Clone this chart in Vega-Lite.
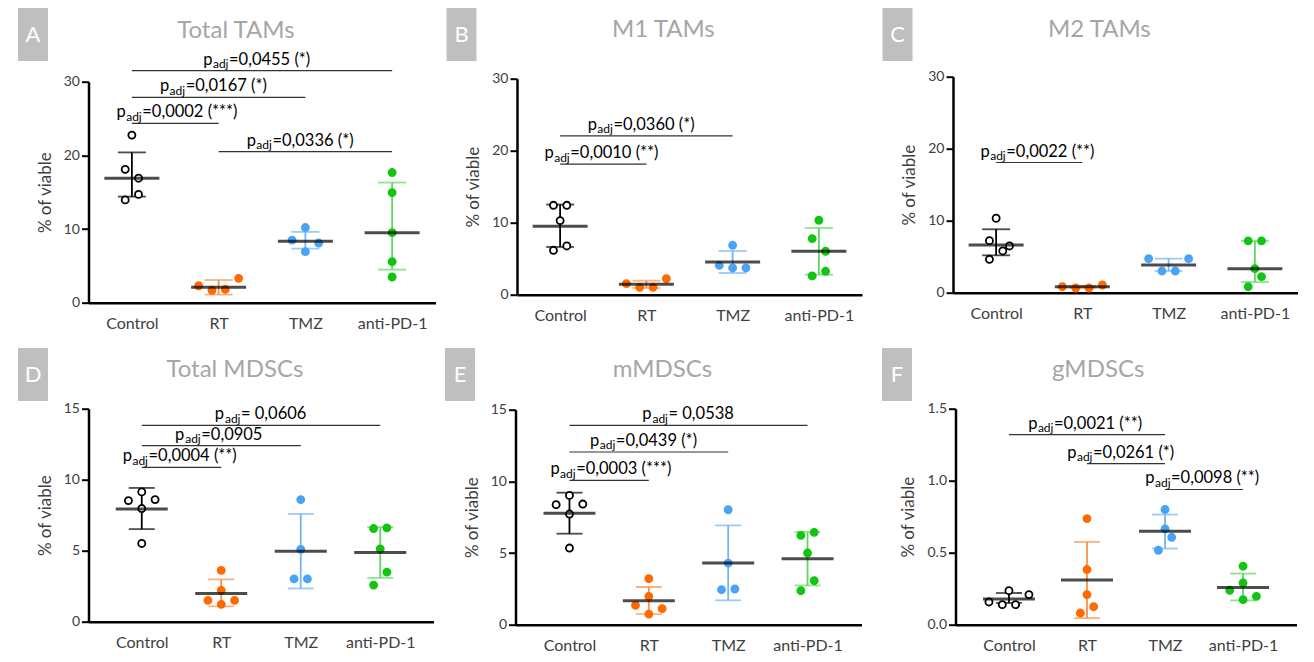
{
"$schema":"https://vega.github.io/schema/vega-lite/v6.json",
"padding":{"left":18,"top":8,"right":0,"bottom":0},
"background":"white",
"config":{
 "font":"Lato",
 "view":{"stroke":null},
 "axis":{"labelColor":"#404040","titleColor":"#404040","domainColor":"#000000","tickColor":"#000000","grid":false,"labelFont":"Lato","titleFont":"Lato","titleFontWeight":"normal"},
 "title":{"font":"Lato","fontSize":24,"fontWeight":"normal","color":"#a6a6a6","anchor":"middle","frame":"bounds"},
 "style":{
  "sigp":{"align":"right","baseline":"alphabetic","fontSize":16.5,"dy":-6,"fill":"#404040"},
  "sigadj":{"align":"right","baseline":"alphabetic","fontSize":12,"dy":-2.5,"fill":"#404040"},
  "sigrest":{"align":"left","baseline":"alphabetic","fontSize":16.5,"dy":-6,"fill":"#404040"}
 }
},
"datasets":{
 "letters":[{"panel":"A"},{"panel":"B"},{"panel":"C"},{"panel":"D"},{"panel":"E"},{"panel":"F"}],
 "points":[
  {"panel":"A","group":"Control","value":22.75,"slot":0},{"panel":"A","group":"Control","value":18.1,"slot":-1},{"panel":"A","group":"Control","value":16.9,"slot":1},{"panel":"A","group":"Control","value":13.95,"slot":-1},{"panel":"A","group":"Control","value":14.7,"slot":1},
  {"panel":"A","group":"RT","value":2.3,"slot":-3},{"panel":"A","group":"RT","value":1.69,"slot":-1},{"panel":"A","group":"RT","value":1.8,"slot":1},{"panel":"A","group":"RT","value":3.31,"slot":3},
  {"panel":"A","group":"TMZ","value":10.2,"slot":0},{"panel":"A","group":"TMZ","value":8.5,"slot":-2},{"panel":"A","group":"TMZ","value":8.1,"slot":2},{"panel":"A","group":"TMZ","value":6.93,"slot":0},
  {"panel":"A","group":"anti-PD-1","value":17.67,"slot":0},{"panel":"A","group":"anti-PD-1","value":14.95,"slot":0},{"panel":"A","group":"anti-PD-1","value":9.51,"slot":0},{"panel":"A","group":"anti-PD-1","value":5.57,"slot":0},{"panel":"A","group":"anti-PD-1","value":3.49,"slot":0},
  {"panel":"B","group":"Control","value":12.42,"slot":-1},{"panel":"B","group":"Control","value":12.42,"slot":1},{"panel":"B","group":"Control","value":10.29,"slot":0},{"panel":"B","group":"Control","value":6.77,"slot":1},{"panel":"B","group":"Control","value":6.17,"slot":-1},
  {"panel":"B","group":"RT","value":1.53,"slot":-3},{"panel":"B","group":"RT","value":1.02,"slot":-1},{"panel":"B","group":"RT","value":1.02,"slot":1},{"panel":"B","group":"RT","value":2.22,"slot":3},
  {"panel":"B","group":"TMZ","value":6.86,"slot":0},{"panel":"B","group":"TMZ","value":4.08,"slot":-2},{"panel":"B","group":"TMZ","value":3.71,"slot":0},{"panel":"B","group":"TMZ","value":3.71,"slot":2},
  {"panel":"B","group":"anti-PD-1","value":10.34,"slot":0},{"panel":"B","group":"anti-PD-1","value":7.79,"slot":-1},{"panel":"B","group":"anti-PD-1","value":6.03,"slot":1},{"panel":"B","group":"anti-PD-1","value":3.25,"slot":1},{"panel":"B","group":"anti-PD-1","value":2.6,"slot":-1},
  {"panel":"C","group":"Control","value":10.34,"slot":0},{"panel":"C","group":"Control","value":7.23,"slot":-1},{"panel":"C","group":"Control","value":6.49,"slot":2},{"panel":"C","group":"Control","value":5.8,"slot":1},{"panel":"C","group":"Control","value":4.64,"slot":-1},
  {"panel":"C","group":"RT","value":0.83,"slot":-3},{"panel":"C","group":"RT","value":0.65,"slot":-1},{"panel":"C","group":"RT","value":0.65,"slot":1},{"panel":"C","group":"RT","value":1.07,"slot":3},
  {"panel":"C","group":"TMZ","value":4.73,"slot":-3},{"panel":"C","group":"TMZ","value":4.73,"slot":3},{"panel":"C","group":"TMZ","value":3.01,"slot":-1},{"panel":"C","group":"TMZ","value":3.01,"slot":1},
  {"panel":"C","group":"anti-PD-1","value":7.19,"slot":-1},{"panel":"C","group":"anti-PD-1","value":7.19,"slot":1},{"panel":"C","group":"anti-PD-1","value":3.34,"slot":0},{"panel":"C","group":"anti-PD-1","value":2.23,"slot":1},{"panel":"C","group":"anti-PD-1","value":0.83,"slot":-1},
  {"panel":"D","group":"Control","value":9.14,"slot":0},{"panel":"D","group":"Control","value":8.53,"slot":-2},{"panel":"D","group":"Control","value":8.6,"slot":2},{"panel":"D","group":"Control","value":7.97,"slot":0},{"panel":"D","group":"Control","value":5.51,"slot":0},
  {"panel":"D","group":"RT","value":3.61,"slot":0},{"panel":"D","group":"RT","value":2.2,"slot":0},{"panel":"D","group":"RT","value":1.5,"slot":-2},{"panel":"D","group":"RT","value":1.5,"slot":2},{"panel":"D","group":"RT","value":1.22,"slot":0},
  {"panel":"D","group":"TMZ","value":8.6,"slot":0},{"panel":"D","group":"TMZ","value":5.09,"slot":0},{"panel":"D","group":"TMZ","value":3.02,"slot":-1},{"panel":"D","group":"TMZ","value":3.02,"slot":1},
  {"panel":"D","group":"anti-PD-1","value":6.56,"slot":-1},{"panel":"D","group":"anti-PD-1","value":6.61,"slot":1},{"panel":"D","group":"anti-PD-1","value":5.13,"slot":0},{"panel":"D","group":"anti-PD-1","value":3.49,"slot":1},{"panel":"D","group":"anti-PD-1","value":2.58,"slot":-1},
  {"panel":"E","group":"Control","value":9.02,"slot":0},{"panel":"E","group":"Control","value":8.37,"slot":-2},{"panel":"E","group":"Control","value":8.42,"slot":2},{"panel":"E","group":"Control","value":7.72,"slot":0},{"panel":"E","group":"Control","value":5.35,"slot":0},
  {"panel":"E","group":"RT","value":3.21,"slot":0},{"panel":"E","group":"RT","value":1.98,"slot":0},{"panel":"E","group":"RT","value":1.35,"slot":-2},{"panel":"E","group":"RT","value":1.12,"slot":2},{"panel":"E","group":"RT","value":0.74,"slot":0},
  {"panel":"E","group":"TMZ","value":8.02,"slot":0},{"panel":"E","group":"TMZ","value":4.3,"slot":0},{"panel":"E","group":"TMZ","value":2.44,"slot":-1},{"panel":"E","group":"TMZ","value":2.49,"slot":1},
  {"panel":"E","group":"anti-PD-1","value":6.23,"slot":-1},{"panel":"E","group":"anti-PD-1","value":6.44,"slot":1},{"panel":"E","group":"anti-PD-1","value":5.0,"slot":0},{"panel":"E","group":"anti-PD-1","value":3.07,"slot":1},{"panel":"E","group":"anti-PD-1","value":2.37,"slot":-1},
  {"panel":"F","group":"Control","value":0.236,"slot":0},{"panel":"F","group":"Control","value":0.209,"slot":3},{"panel":"F","group":"Control","value":0.158,"slot":-3},{"panel":"F","group":"Control","value":0.139,"slot":-1},{"panel":"F","group":"Control","value":0.139,"slot":1},
  {"panel":"F","group":"RT","value":0.737,"slot":0},{"panel":"F","group":"RT","value":0.383,"slot":0},{"panel":"F","group":"RT","value":0.209,"slot":0},{"panel":"F","group":"RT","value":0.125,"slot":1},{"panel":"F","group":"RT","value":0.081,"slot":-1},
  {"panel":"F","group":"TMZ","value":0.8,"slot":0},{"panel":"F","group":"TMZ","value":0.665,"slot":0},{"panel":"F","group":"TMZ","value":0.607,"slot":1},{"panel":"F","group":"TMZ","value":0.517,"slot":-1},
  {"panel":"F","group":"anti-PD-1","value":0.406,"slot":0},{"panel":"F","group":"anti-PD-1","value":0.29,"slot":0},{"panel":"F","group":"anti-PD-1","value":0.239,"slot":-2},{"panel":"F","group":"anti-PD-1","value":0.174,"slot":0},{"panel":"F","group":"anti-PD-1","value":0.197,"slot":2}
 ],
 "summary":[
  {"panel":"A","group":"Control","mean":16.9,"lo":14.4,"hi":20.4},{"panel":"A","group":"RT","mean":2.09,"lo":1.1,"hi":3.08},{"panel":"A","group":"TMZ","mean":8.34,"lo":7.34,"hi":9.61},{"panel":"A","group":"anti-PD-1","mean":9.51,"lo":4.49,"hi":16.31},
  {"panel":"B","group":"Control","mean":9.5,"lo":6.63,"hi":12.52},{"panel":"B","group":"RT","mean":1.44,"lo":0.93,"hi":1.95},{"panel":"B","group":"TMZ","mean":4.54,"lo":3.01,"hi":6.07},{"panel":"B","group":"anti-PD-1","mean":6.03,"lo":2.78,"hi":9.27},
  {"panel":"C","group":"Control","mean":6.63,"lo":5.19,"hi":8.81},{"panel":"C","group":"RT","mean":0.83,"lo":0.7,"hi":0.96},{"panel":"C","group":"TMZ","mean":3.85,"lo":3.01,"hi":4.73},{"panel":"C","group":"anti-PD-1","mean":3.34,"lo":1.48,"hi":7.19},
  {"panel":"D","group":"Control","mean":7.94,"lo":6.52,"hi":9.42},{"panel":"D","group":"RT","mean":1.99,"lo":1.08,"hi":2.98},{"panel":"D","group":"TMZ","mean":4.97,"lo":2.34,"hi":7.59},{"panel":"D","group":"anti-PD-1","mean":4.87,"lo":3.09,"hi":6.66},
  {"panel":"E","group":"Control","mean":7.77,"lo":6.35,"hi":9.21},{"panel":"E","group":"RT","mean":1.67,"lo":0.74,"hi":2.63},{"panel":"E","group":"TMZ","mean":4.3,"lo":1.7,"hi":6.93},{"panel":"E","group":"anti-PD-1","mean":4.6,"lo":2.74,"hi":6.47},
  {"panel":"F","group":"Control","mean":0.179,"lo":0.151,"hi":0.22},{"panel":"F","group":"RT","mean":0.311,"lo":0.046,"hi":0.575},{"panel":"F","group":"TMZ","mean":0.649,"lo":0.529,"hi":0.765},{"panel":"F","group":"anti-PD-1","mean":0.259,"lo":0.169,"hi":0.355}
 ],
 "sig":[
  {"panel":"A","group":"Control","group2":"anti-PD-1","at":"RT|TMZ","y":31.5,"rest":"=0,0455 (*)"},
  {"panel":"A","group":"Control","group2":"TMZ","at":"RT","y":27.87,"rest":"=0,0167 (*)"},
  {"panel":"A","group":"Control","group2":"RT","at":"Control|RT","y":24.33,"rest":"=0,0002 (***)"},
  {"panel":"A","group":"RT","group2":"anti-PD-1","at":"TMZ","y":20.5,"rest":"=0,0336 (*)"},
  {"panel":"B","group":"Control","group2":"TMZ","at":"RT","y":22.07,"rest":"=0,0360 (*)"},
  {"panel":"B","group":"Control","group2":"RT","at":"Control|RT","y":18.13,"rest":"=0,0010 (**)"},
  {"panel":"C","group":"Control","group2":"RT","at":"Control|RT","y":18.08,"rest":"=0,0022 (**)"},
  {"panel":"D","group":"Control","group2":"anti-PD-1","at":"RT|TMZ","y":13.83,"rest":"\u00a0= 0,0606"},
  {"panel":"D","group":"Control","group2":"TMZ","at":"RT","y":12.4,"rest":"=0,0905"},
  {"panel":"D","group":"Control","group2":"RT","at":"Control|RT","y":10.87,"rest":"=0,0004 (**)"},
  {"panel":"E","group":"Control","group2":"anti-PD-1","at":"RT|TMZ","y":13.9,"rest":"\u00a0= 0,0538"},
  {"panel":"E","group":"Control","group2":"TMZ","at":"RT","y":12.05,"rest":"=0,0439 (*)"},
  {"panel":"E","group":"Control","group2":"RT","at":"Control|RT","y":10.07,"rest":"=0,0003 (***)"},
  {"panel":"F","group":"Control","group2":"TMZ","at":"RT","y":1.32,"rest":"=0,0021 (**)"},
  {"panel":"F","group":"RT","group2":"TMZ","at":"RT|TMZ","y":1.118,"rest":"=0,0261 (*)"},
  {"panel":"F","group":"TMZ","group2":"anti-PD-1","at":"TMZ|anti-PD-1","y":0.939,"rest":"=0,0098 (**)"}
 ]
},
"spacing":16,
"vconcat":[
 {"spacing":10.5,"hconcat":[
  {"spacing":-12.5,"hconcat":[
   {"width":30,"height":53,"view":{"fill":"#bfbfbf","stroke":null},"data":{"name":"letters"},"transform":[{"filter":"datum.panel==='A'"}],"mark":{"type":"text","color":"white","fontSize":22},"encoding":{"text":{"field":"panel"}}},
   {"spacing":8.7,"vconcat":[
   {"width":1,"height":1,"data":{"name":"letters"},"transform":[{"filter":"false"}],"mark":"text"},
   {"width":347,"height":221,"title":{"text":"Total TAMs","offset":9},
    "encoding":{"x":{"field":"group","type":"nominal","scale":{"type":"point","padding":1,"domain":["Control","Control|RT","RT","RT|TMZ","TMZ","TMZ|anti-PD-1","anti-PD-1"]},"axis":{"title":null,"values":["Control","RT","TMZ","anti-PD-1"],"ticks":false,"labelPadding":13,"labelFontSize":16,"labelAngle":0,"domainWidth":2.5}}},
    "layer":[
     {"data":{"name":"sig"},"transform":[{"filter":"datum.panel==='A'"}],"mark":{"type":"rule","color":"#333333","strokeWidth":1.2},"encoding":{"x2":{"field":"group2"},"y":{"field":"y","type":"quantitative"}}},
     {"data":{"name":"sig"},"transform":[{"filter":"datum.panel==='A'"}],"encoding":{"x":{"field":"at","type":"nominal","scale":{"type":"point","padding":1,"domain":["Control","Control|RT","RT","RT|TMZ","TMZ","TMZ|anti-PD-1","anti-PD-1"]}},"y":{"field":"y","type":"quantitative"}},
      "layer":[
       {"transform":[{"filter":"indexof(datum.rest,'(')>=0"}],"mark":{"type":"text","style":"sigp","dx":-49.5},"encoding":{"text":{"value":"p"}}},
       {"transform":[{"filter":"indexof(datum.rest,'(')>=0"}],"mark":{"type":"text","style":"sigadj","dx":-33.5},"encoding":{"text":{"value":"adj"}}},
       {"transform":[{"filter":"indexof(datum.rest,'(')>=0"}],"mark":{"type":"text","style":"sigrest","dx":-33},"encoding":{"text":{"field":"rest"}}}
      ]},
     {"data":{"name":"summary"},"transform":[{"filter":"datum.panel==='A'"}],"mark":{"type":"rule","strokeWidth":1.8},"encoding":{"y":{"field":"lo","type":"quantitative"},"y2":{"field":"hi"},"color":{"field":"group","type":"nominal","scale":{"domain":["Control","RT","TMZ","anti-PD-1"],"range":["#000000","#f8914a","#74b5f5","#5dd85d"]},"legend":null}}},
     {"data":{"name":"summary"},"transform":[{"filter":"datum.panel==='A'"}],"mark":{"type":"tick","orient":"horizontal","size":28,"thickness":1.8},"encoding":{"y":{"field":"lo","type":"quantitative"},"color":{"field":"group","type":"nominal","scale":{"domain":["Control","RT","TMZ","anti-PD-1"],"range":["#000000","#f8914a","#74b5f5","#5dd85d"]},"legend":null}}},
     {"data":{"name":"summary"},"transform":[{"filter":"datum.panel==='A'"}],"mark":{"type":"tick","orient":"horizontal","size":28,"thickness":1.8},"encoding":{"y":{"field":"hi","type":"quantitative"},"color":{"field":"group","type":"nominal","scale":{"domain":["Control","RT","TMZ","anti-PD-1"],"range":["#000000","#f8914a","#74b5f5","#5dd85d"]},"legend":null}}},
     {"data":{"name":"points"},"transform":[{"filter":"datum.panel==='A'"}],"mark":{"type":"point","shape":"circle","filled":true,"size":50,"strokeWidth":1.8,"opacity":1},"encoding":{"y":{"field":"value","type":"quantitative","scale":{"domain":[0,30],"nice":false},"axis":{"title":"% of viable","values":[0,5,10,15,20,25,30],"labelExpr":"datum.value % 10 === 0 ? datum.label : ''","tickSize":{"condition":{"test":"datum.value % 10 === 0","value":7},"value":3.5},"tickWidth":2,"domainWidth":2.5,"labelFontSize":14,"labelPadding":2,"titleFontSize":17,"titlePadding":9}},"xOffset":{"field":"slot","type":"quantitative","scale":{"domain":[-3,3],"range":[-20,20]}},"fill":{"field":"group","type":"nominal","scale":{"domain":["Control","RT","TMZ","anti-PD-1"],"range":["#ffffff","#ff6a00","#4ba3f5","#14c414"]},"legend":null},"stroke":{"field":"group","type":"nominal","scale":{"domain":["Control","RT","TMZ","anti-PD-1"],"range":["#000000","#ff6a00","#4ba3f5","#14c414"]},"legend":null}}},
     {"data":{"name":"summary"},"transform":[{"filter":"datum.panel==='A'"}],"mark":{"type":"tick","orient":"horizontal","size":55,"thickness":3,"color":"#000000"},"encoding":{"y":{"field":"mean","type":"quantitative"}}}
    ]}]}
  ]},
  {"spacing":20,"hconcat":[
   {"spacing":-12.5,"hconcat":[
    {"width":30,"height":53,"view":{"fill":"#bfbfbf","stroke":null},"data":{"name":"letters"},"transform":[{"filter":"datum.panel==='B'"}],"mark":{"type":"text","color":"white","fontSize":22},"encoding":{"text":{"field":"panel"}}},
    {"spacing":8.7,"vconcat":[
    {"width":1,"height":1,"data":{"name":"letters"},"transform":[{"filter":"false"}],"mark":"text"},
    {"width":345,"height":216,"title":{"text":"M1 TAMs","offset":30},
     "encoding":{"x":{"field":"group","type":"nominal","scale":{"type":"point","padding":1,"domain":["Control","Control|RT","RT","RT|TMZ","TMZ","TMZ|anti-PD-1","anti-PD-1"]},"axis":{"title":null,"values":["Control","RT","TMZ","anti-PD-1"],"ticks":false,"labelPadding":13,"labelFontSize":16,"labelAngle":0,"domainWidth":2.5}}},
     "layer":[
      {"data":{"name":"sig"},"transform":[{"filter":"datum.panel==='B'"}],"mark":{"type":"rule","color":"#333333","strokeWidth":1.2},"encoding":{"x2":{"field":"group2"},"y":{"field":"y","type":"quantitative"}}},
      {"data":{"name":"sig"},"transform":[{"filter":"datum.panel==='B'"}],"encoding":{"x":{"field":"at","type":"nominal","scale":{"type":"point","padding":1,"domain":["Control","Control|RT","RT","RT|TMZ","TMZ","TMZ|anti-PD-1","anti-PD-1"]}},"y":{"field":"y","type":"quantitative"}},
       "layer":[
        {"transform":[{"filter":"indexof(datum.rest,'(')>=0"}],"mark":{"type":"text","style":"sigp","dx":-49.5},"encoding":{"text":{"value":"p"}}},
        {"transform":[{"filter":"indexof(datum.rest,'(')>=0"}],"mark":{"type":"text","style":"sigadj","dx":-33.5},"encoding":{"text":{"value":"adj"}}},
        {"transform":[{"filter":"indexof(datum.rest,'(')>=0"}],"mark":{"type":"text","style":"sigrest","dx":-33},"encoding":{"text":{"field":"rest"}}}
       ]},
      {"data":{"name":"summary"},"transform":[{"filter":"datum.panel==='B'"}],"mark":{"type":"rule","strokeWidth":1.8},"encoding":{"y":{"field":"lo","type":"quantitative"},"y2":{"field":"hi"},"color":{"field":"group","type":"nominal","scale":{"domain":["Control","RT","TMZ","anti-PD-1"],"range":["#000000","#f8914a","#74b5f5","#5dd85d"]},"legend":null}}},
      {"data":{"name":"summary"},"transform":[{"filter":"datum.panel==='B'"}],"mark":{"type":"tick","orient":"horizontal","size":28,"thickness":1.8},"encoding":{"y":{"field":"lo","type":"quantitative"},"color":{"field":"group","type":"nominal","scale":{"domain":["Control","RT","TMZ","anti-PD-1"],"range":["#000000","#f8914a","#74b5f5","#5dd85d"]},"legend":null}}},
      {"data":{"name":"summary"},"transform":[{"filter":"datum.panel==='B'"}],"mark":{"type":"tick","orient":"horizontal","size":28,"thickness":1.8},"encoding":{"y":{"field":"hi","type":"quantitative"},"color":{"field":"group","type":"nominal","scale":{"domain":["Control","RT","TMZ","anti-PD-1"],"range":["#000000","#f8914a","#74b5f5","#5dd85d"]},"legend":null}}},
      {"data":{"name":"points"},"transform":[{"filter":"datum.panel==='B'"}],"mark":{"type":"point","shape":"circle","filled":true,"size":50,"strokeWidth":1.8,"opacity":1},"encoding":{"y":{"field":"value","type":"quantitative","scale":{"domain":[0,30],"nice":false},"axis":{"title":"% of viable","values":[0,5,10,15,20,25,30],"labelExpr":"datum.value % 10 === 0 ? datum.label : ''","tickSize":{"condition":{"test":"datum.value % 10 === 0","value":7},"value":3.5},"tickWidth":2,"domainWidth":2.5,"labelFontSize":14,"labelPadding":2,"titleFontSize":17,"titlePadding":9}},"xOffset":{"field":"slot","type":"quantitative","scale":{"domain":[-3,3],"range":[-20,20]}},"fill":{"field":"group","type":"nominal","scale":{"domain":["Control","RT","TMZ","anti-PD-1"],"range":["#ffffff","#ff6a00","#4ba3f5","#14c414"]},"legend":null},"stroke":{"field":"group","type":"nominal","scale":{"domain":["Control","RT","TMZ","anti-PD-1"],"range":["#000000","#ff6a00","#4ba3f5","#14c414"]},"legend":null}}},
      {"data":{"name":"summary"},"transform":[{"filter":"datum.panel==='B'"}],"mark":{"type":"tick","orient":"horizontal","size":55,"thickness":3,"color":"#000000"},"encoding":{"y":{"field":"mean","type":"quantitative"}}}
     ]}]}
   ]},
   {"spacing":-12.5,"hconcat":[
    {"width":30,"height":53,"view":{"fill":"#bfbfbf","stroke":null},"data":{"name":"letters"},"transform":[{"filter":"datum.panel==='C'"}],"mark":{"type":"text","color":"white","fontSize":22},"encoding":{"text":{"field":"panel"}}},
    {"spacing":8.7,"vconcat":[
    {"width":1,"height":1,"data":{"name":"letters"},"transform":[{"filter":"false"}],"mark":"text"},
    {"width":345,"height":216,"title":{"text":"M2 TAMs","offset":28},
     "encoding":{"x":{"field":"group","type":"nominal","scale":{"type":"point","padding":1,"domain":["Control","Control|RT","RT","RT|TMZ","TMZ","TMZ|anti-PD-1","anti-PD-1"]},"axis":{"title":null,"values":["Control","RT","TMZ","anti-PD-1"],"ticks":false,"labelPadding":13,"labelFontSize":16,"labelAngle":0,"domainWidth":2.5}}},
     "layer":[
      {"data":{"name":"sig"},"transform":[{"filter":"datum.panel==='C'"}],"mark":{"type":"rule","color":"#333333","strokeWidth":1.2},"encoding":{"x2":{"field":"group2"},"y":{"field":"y","type":"quantitative"}}},
      {"data":{"name":"sig"},"transform":[{"filter":"datum.panel==='C'"}],"encoding":{"x":{"field":"at","type":"nominal","scale":{"type":"point","padding":1,"domain":["Control","Control|RT","RT","RT|TMZ","TMZ","TMZ|anti-PD-1","anti-PD-1"]}},"y":{"field":"y","type":"quantitative"}},
       "layer":[
        {"transform":[{"filter":"indexof(datum.rest,'(')>=0"}],"mark":{"type":"text","style":"sigp","dx":-49.5},"encoding":{"text":{"value":"p"}}},
        {"transform":[{"filter":"indexof(datum.rest,'(')>=0"}],"mark":{"type":"text","style":"sigadj","dx":-33.5},"encoding":{"text":{"value":"adj"}}},
        {"transform":[{"filter":"indexof(datum.rest,'(')>=0"}],"mark":{"type":"text","style":"sigrest","dx":-33},"encoding":{"text":{"field":"rest"}}}
       ]},
      {"data":{"name":"summary"},"transform":[{"filter":"datum.panel==='C'"}],"mark":{"type":"rule","strokeWidth":1.8},"encoding":{"y":{"field":"lo","type":"quantitative"},"y2":{"field":"hi"},"color":{"field":"group","type":"nominal","scale":{"domain":["Control","RT","TMZ","anti-PD-1"],"range":["#000000","#f8914a","#74b5f5","#5dd85d"]},"legend":null}}},
      {"data":{"name":"summary"},"transform":[{"filter":"datum.panel==='C'"}],"mark":{"type":"tick","orient":"horizontal","size":28,"thickness":1.8},"encoding":{"y":{"field":"lo","type":"quantitative"},"color":{"field":"group","type":"nominal","scale":{"domain":["Control","RT","TMZ","anti-PD-1"],"range":["#000000","#f8914a","#74b5f5","#5dd85d"]},"legend":null}}},
      {"data":{"name":"summary"},"transform":[{"filter":"datum.panel==='C'"}],"mark":{"type":"tick","orient":"horizontal","size":28,"thickness":1.8},"encoding":{"y":{"field":"hi","type":"quantitative"},"color":{"field":"group","type":"nominal","scale":{"domain":["Control","RT","TMZ","anti-PD-1"],"range":["#000000","#f8914a","#74b5f5","#5dd85d"]},"legend":null}}},
      {"data":{"name":"points"},"transform":[{"filter":"datum.panel==='C'"}],"mark":{"type":"point","shape":"circle","filled":true,"size":50,"strokeWidth":1.8,"opacity":1},"encoding":{"y":{"field":"value","type":"quantitative","scale":{"domain":[0,30],"nice":false},"axis":{"title":"% of viable","values":[0,5,10,15,20,25,30],"labelExpr":"datum.value % 10 === 0 ? datum.label : ''","tickSize":{"condition":{"test":"datum.value % 10 === 0","value":7},"value":3.5},"tickWidth":2,"domainWidth":2.5,"labelFontSize":14,"labelPadding":2,"titleFontSize":17,"titlePadding":9}},"xOffset":{"field":"slot","type":"quantitative","scale":{"domain":[-3,3],"range":[-20,20]}},"fill":{"field":"group","type":"nominal","scale":{"domain":["Control","RT","TMZ","anti-PD-1"],"range":["#ffffff","#ff6a00","#4ba3f5","#14c414"]},"legend":null},"stroke":{"field":"group","type":"nominal","scale":{"domain":["Control","RT","TMZ","anti-PD-1"],"range":["#000000","#ff6a00","#4ba3f5","#14c414"]},"legend":null}}},
      {"data":{"name":"summary"},"transform":[{"filter":"datum.panel==='C'"}],"mark":{"type":"tick","orient":"horizontal","size":55,"thickness":3,"color":"#000000"},"encoding":{"y":{"field":"mean","type":"quantitative"}}}
     ]}]}
   ]}
  ]}
 ]},
 {"spacing":11,"hconcat":[
  {"spacing":-12.5,"hconcat":[
   {"width":30,"height":53,"view":{"fill":"#bfbfbf","stroke":null},"data":{"name":"letters"},"transform":[{"filter":"datum.panel==='D'"}],"mark":{"type":"text","color":"white","fontSize":22},"encoding":{"text":{"field":"panel"}}},
   {"spacing":8.7,"vconcat":[
   {"width":1,"height":1,"data":{"name":"letters"},"transform":[{"filter":"false"}],"mark":"text"},
   {"width":345,"height":213,"title":{"text":"Total MDSCs","offset":20},
    "encoding":{"x":{"field":"group","type":"nominal","scale":{"type":"point","padding":0.34,"domain":["_L","Control","Control|RT","RT","RT|TMZ","TMZ","TMZ|anti-PD-1","anti-PD-1","_R"]},"axis":{"title":null,"values":["Control","RT","TMZ","anti-PD-1"],"ticks":false,"labelPadding":13,"labelFontSize":16,"labelAngle":0,"domainWidth":2.5}}},
    "layer":[
     {"data":{"name":"sig"},"transform":[{"filter":"datum.panel==='D'"}],"mark":{"type":"rule","color":"#333333","strokeWidth":1.2},"encoding":{"x2":{"field":"group2"},"y":{"field":"y","type":"quantitative"}}},
     {"data":{"name":"sig"},"transform":[{"filter":"datum.panel==='D'"}],"encoding":{"x":{"field":"at","type":"nominal","scale":{"type":"point","padding":0.34,"domain":["_L","Control","Control|RT","RT","RT|TMZ","TMZ","TMZ|anti-PD-1","anti-PD-1","_R"]}},"y":{"field":"y","type":"quantitative"}},
      "layer":[
       {"transform":[{"filter":"indexof(datum.rest,'(')>=0"}],"mark":{"type":"text","style":"sigp","dx":-49.5},"encoding":{"text":{"value":"p"}}},
       {"transform":[{"filter":"indexof(datum.rest,'(')>=0"}],"mark":{"type":"text","style":"sigadj","dx":-33.5},"encoding":{"text":{"value":"adj"}}},
       {"transform":[{"filter":"indexof(datum.rest,'(')>=0"}],"mark":{"type":"text","style":"sigrest","dx":-33},"encoding":{"text":{"field":"rest"}}},
       {"transform":[{"filter":"indexof(datum.rest,'(')<0"}],"mark":{"type":"text","style":"sigp","dx":-37},"encoding":{"text":{"value":"p"}}},
       {"transform":[{"filter":"indexof(datum.rest,'(')<0"}],"mark":{"type":"text","style":"sigadj","dx":-20.5},"encoding":{"text":{"value":"adj"}}},
       {"transform":[{"filter":"indexof(datum.rest,'(')<0"}],"mark":{"type":"text","style":"sigrest","dx":-20},"encoding":{"text":{"field":"rest"}}}
      ]},
     {"data":{"name":"summary"},"transform":[{"filter":"datum.panel==='D'"}],"mark":{"type":"rule","strokeWidth":1.8},"encoding":{"y":{"field":"lo","type":"quantitative"},"y2":{"field":"hi"},"color":{"field":"group","type":"nominal","scale":{"domain":["Control","RT","TMZ","anti-PD-1"],"range":["#000000","#f8914a","#74b5f5","#5dd85d"]},"legend":null}}},
     {"data":{"name":"summary"},"transform":[{"filter":"datum.panel==='D'"}],"mark":{"type":"tick","orient":"horizontal","size":26,"thickness":1.8},"encoding":{"y":{"field":"lo","type":"quantitative"},"color":{"field":"group","type":"nominal","scale":{"domain":["Control","RT","TMZ","anti-PD-1"],"range":["#000000","#f8914a","#74b5f5","#5dd85d"]},"legend":null}}},
     {"data":{"name":"summary"},"transform":[{"filter":"datum.panel==='D'"}],"mark":{"type":"tick","orient":"horizontal","size":26,"thickness":1.8},"encoding":{"y":{"field":"hi","type":"quantitative"},"color":{"field":"group","type":"nominal","scale":{"domain":["Control","RT","TMZ","anti-PD-1"],"range":["#000000","#f8914a","#74b5f5","#5dd85d"]},"legend":null}}},
     {"data":{"name":"points"},"transform":[{"filter":"datum.panel==='D'"}],"mark":{"type":"point","shape":"circle","filled":true,"size":50,"strokeWidth":1.8,"opacity":1},"encoding":{"y":{"field":"value","type":"quantitative","scale":{"domain":[0,15],"nice":false},"axis":{"title":"% of viable","values":[0,2.5,5,7.5,10,12.5,15],"labelExpr":"datum.value % 5 === 0 ? datum.label : ''","tickSize":{"condition":{"test":"datum.value % 5 === 0","value":7},"value":3.5},"tickWidth":2,"domainWidth":2.5,"labelFontSize":14,"labelPadding":2,"titleFontSize":17,"titlePadding":9}},"xOffset":{"field":"slot","type":"quantitative","scale":{"domain":[-3,3],"range":[-20,20]}},"fill":{"field":"group","type":"nominal","scale":{"domain":["Control","RT","TMZ","anti-PD-1"],"range":["#ffffff","#ff6a00","#4ba3f5","#14c414"]},"legend":null},"stroke":{"field":"group","type":"nominal","scale":{"domain":["Control","RT","TMZ","anti-PD-1"],"range":["#000000","#ff6a00","#4ba3f5","#14c414"]},"legend":null}}},
     {"data":{"name":"summary"},"transform":[{"filter":"datum.panel==='D'"}],"mark":{"type":"tick","orient":"horizontal","size":52,"thickness":3,"color":"#000000"},"encoding":{"y":{"field":"mean","type":"quantitative"}}}
    ]}]}
  ]},
  {"spacing":20,"hconcat":[
   {"spacing":-12.5,"hconcat":[
    {"width":30,"height":53,"view":{"fill":"#bfbfbf","stroke":null},"data":{"name":"letters"},"transform":[{"filter":"datum.panel==='E'"}],"mark":{"type":"text","color":"white","fontSize":22},"encoding":{"text":{"field":"panel"}}},
    {"spacing":8.7,"vconcat":[
    {"width":1,"height":1,"data":{"name":"letters"},"transform":[{"filter":"false"}],"mark":"text"},
    {"width":346,"height":215,"title":{"text":"mMDSCs","offset":21},
     "encoding":{"x":{"field":"group","type":"nominal","scale":{"type":"point","padding":0.36,"domain":["_L","Control","Control|RT","RT","RT|TMZ","TMZ","TMZ|anti-PD-1","anti-PD-1","_R"]},"axis":{"title":null,"values":["Control","RT","TMZ","anti-PD-1"],"ticks":false,"labelPadding":13,"labelFontSize":16,"labelAngle":0,"domainWidth":2.5}}},
     "layer":[
      {"data":{"name":"sig"},"transform":[{"filter":"datum.panel==='E'"}],"mark":{"type":"rule","color":"#333333","strokeWidth":1.2},"encoding":{"x2":{"field":"group2"},"y":{"field":"y","type":"quantitative"}}},
      {"data":{"name":"sig"},"transform":[{"filter":"datum.panel==='E'"}],"encoding":{"x":{"field":"at","type":"nominal","scale":{"type":"point","padding":0.36,"domain":["_L","Control","Control|RT","RT","RT|TMZ","TMZ","TMZ|anti-PD-1","anti-PD-1","_R"]}},"y":{"field":"y","type":"quantitative"}},
       "layer":[
        {"transform":[{"filter":"indexof(datum.rest,'(')>=0"}],"mark":{"type":"text","style":"sigp","dx":-49.5},"encoding":{"text":{"value":"p"}}},
        {"transform":[{"filter":"indexof(datum.rest,'(')>=0"}],"mark":{"type":"text","style":"sigadj","dx":-33.5},"encoding":{"text":{"value":"adj"}}},
        {"transform":[{"filter":"indexof(datum.rest,'(')>=0"}],"mark":{"type":"text","style":"sigrest","dx":-33},"encoding":{"text":{"field":"rest"}}},
        {"transform":[{"filter":"indexof(datum.rest,'(')<0"}],"mark":{"type":"text","style":"sigp","dx":-37},"encoding":{"text":{"value":"p"}}},
        {"transform":[{"filter":"indexof(datum.rest,'(')<0"}],"mark":{"type":"text","style":"sigadj","dx":-20.5},"encoding":{"text":{"value":"adj"}}},
        {"transform":[{"filter":"indexof(datum.rest,'(')<0"}],"mark":{"type":"text","style":"sigrest","dx":-20},"encoding":{"text":{"field":"rest"}}}
       ]},
      {"data":{"name":"summary"},"transform":[{"filter":"datum.panel==='E'"}],"mark":{"type":"rule","strokeWidth":1.8},"encoding":{"y":{"field":"lo","type":"quantitative"},"y2":{"field":"hi"},"color":{"field":"group","type":"nominal","scale":{"domain":["Control","RT","TMZ","anti-PD-1"],"range":["#000000","#f8914a","#74b5f5","#5dd85d"]},"legend":null}}},
      {"data":{"name":"summary"},"transform":[{"filter":"datum.panel==='E'"}],"mark":{"type":"tick","orient":"horizontal","size":26,"thickness":1.8},"encoding":{"y":{"field":"lo","type":"quantitative"},"color":{"field":"group","type":"nominal","scale":{"domain":["Control","RT","TMZ","anti-PD-1"],"range":["#000000","#f8914a","#74b5f5","#5dd85d"]},"legend":null}}},
      {"data":{"name":"summary"},"transform":[{"filter":"datum.panel==='E'"}],"mark":{"type":"tick","orient":"horizontal","size":26,"thickness":1.8},"encoding":{"y":{"field":"hi","type":"quantitative"},"color":{"field":"group","type":"nominal","scale":{"domain":["Control","RT","TMZ","anti-PD-1"],"range":["#000000","#f8914a","#74b5f5","#5dd85d"]},"legend":null}}},
      {"data":{"name":"points"},"transform":[{"filter":"datum.panel==='E'"}],"mark":{"type":"point","shape":"circle","filled":true,"size":50,"strokeWidth":1.8,"opacity":1},"encoding":{"y":{"field":"value","type":"quantitative","scale":{"domain":[0,15],"nice":false},"axis":{"title":"% of viable","values":[0,2.5,5,7.5,10,12.5,15],"labelExpr":"datum.value % 5 === 0 ? datum.label : ''","tickSize":{"condition":{"test":"datum.value % 5 === 0","value":7},"value":3.5},"tickWidth":2,"domainWidth":2.5,"labelFontSize":14,"labelPadding":2,"titleFontSize":17,"titlePadding":9}},"xOffset":{"field":"slot","type":"quantitative","scale":{"domain":[-3,3],"range":[-20,20]}},"fill":{"field":"group","type":"nominal","scale":{"domain":["Control","RT","TMZ","anti-PD-1"],"range":["#ffffff","#ff6a00","#4ba3f5","#14c414"]},"legend":null},"stroke":{"field":"group","type":"nominal","scale":{"domain":["Control","RT","TMZ","anti-PD-1"],"range":["#000000","#ff6a00","#4ba3f5","#14c414"]},"legend":null}}},
      {"data":{"name":"summary"},"transform":[{"filter":"datum.panel==='E'"}],"mark":{"type":"tick","orient":"horizontal","size":52,"thickness":3,"color":"#000000"},"encoding":{"y":{"field":"mean","type":"quantitative"}}}
     ]}]}
   ]},
   {"spacing":-12.5,"hconcat":[
    {"width":30,"height":53,"view":{"fill":"#bfbfbf","stroke":null},"data":{"name":"letters"},"transform":[{"filter":"datum.panel==='F'"}],"mark":{"type":"text","color":"white","fontSize":22},"encoding":{"text":{"field":"panel"}}},
    {"spacing":8.7,"vconcat":[
    {"width":1,"height":1,"data":{"name":"letters"},"transform":[{"filter":"false"}],"mark":"text"},
    {"width":341,"height":216,"title":{"text":"gMDSCs","offset":20},
     "encoding":{"x":{"field":"group","type":"nominal","scale":{"type":"point","padding":0.37,"domain":["_L","Control","Control|RT","RT","RT|TMZ","TMZ","TMZ|anti-PD-1","anti-PD-1","_R"]},"axis":{"title":null,"values":["Control","RT","TMZ","anti-PD-1"],"ticks":false,"labelPadding":13,"labelFontSize":16,"labelAngle":0,"domainWidth":2.5}}},
     "layer":[
      {"data":{"name":"sig"},"transform":[{"filter":"datum.panel==='F'"}],"mark":{"type":"rule","color":"#333333","strokeWidth":1.2},"encoding":{"x2":{"field":"group2"},"y":{"field":"y","type":"quantitative"}}},
      {"data":{"name":"sig"},"transform":[{"filter":"datum.panel==='F'"}],"encoding":{"x":{"field":"at","type":"nominal","scale":{"type":"point","padding":0.37,"domain":["_L","Control","Control|RT","RT","RT|TMZ","TMZ","TMZ|anti-PD-1","anti-PD-1","_R"]}},"y":{"field":"y","type":"quantitative"}},
       "layer":[
        {"transform":[{"filter":"indexof(datum.rest,'(')>=0"}],"mark":{"type":"text","style":"sigp","dx":-49.5},"encoding":{"text":{"value":"p"}}},
        {"transform":[{"filter":"indexof(datum.rest,'(')>=0"}],"mark":{"type":"text","style":"sigadj","dx":-33.5},"encoding":{"text":{"value":"adj"}}},
        {"transform":[{"filter":"indexof(datum.rest,'(')>=0"}],"mark":{"type":"text","style":"sigrest","dx":-33},"encoding":{"text":{"field":"rest"}}}
       ]},
      {"data":{"name":"summary"},"transform":[{"filter":"datum.panel==='F'"}],"mark":{"type":"rule","strokeWidth":1.8},"encoding":{"y":{"field":"lo","type":"quantitative"},"y2":{"field":"hi"},"color":{"field":"group","type":"nominal","scale":{"domain":["Control","RT","TMZ","anti-PD-1"],"range":["#000000","#f8914a","#74b5f5","#5dd85d"]},"legend":null}}},
      {"data":{"name":"summary"},"transform":[{"filter":"datum.panel==='F'"}],"mark":{"type":"tick","orient":"horizontal","size":26,"thickness":1.8},"encoding":{"y":{"field":"lo","type":"quantitative"},"color":{"field":"group","type":"nominal","scale":{"domain":["Control","RT","TMZ","anti-PD-1"],"range":["#000000","#f8914a","#74b5f5","#5dd85d"]},"legend":null}}},
      {"data":{"name":"summary"},"transform":[{"filter":"datum.panel==='F'"}],"mark":{"type":"tick","orient":"horizontal","size":26,"thickness":1.8},"encoding":{"y":{"field":"hi","type":"quantitative"},"color":{"field":"group","type":"nominal","scale":{"domain":["Control","RT","TMZ","anti-PD-1"],"range":["#000000","#f8914a","#74b5f5","#5dd85d"]},"legend":null}}},
      {"data":{"name":"points"},"transform":[{"filter":"datum.panel==='F'"}],"mark":{"type":"point","shape":"circle","filled":true,"size":50,"strokeWidth":1.8,"opacity":1},"encoding":{"y":{"field":"value","type":"quantitative","scale":{"domain":[0,1.5],"nice":false},"axis":{"title":"% of viable","values":[0,0.25,0.5,0.75,1,1.25,1.5],"format":".1f","labelExpr":"abs(datum.value*2-round(datum.value*2))<0.001 ? datum.label : ''","tickSize":{"condition":{"test":"abs(datum.value*2-round(datum.value*2))<0.001","value":7},"value":3.5},"tickWidth":2,"domainWidth":2.5,"labelFontSize":14,"labelPadding":2,"titleFontSize":17,"titlePadding":9}},"xOffset":{"field":"slot","type":"quantitative","scale":{"domain":[-3,3],"range":[-20,20]}},"fill":{"field":"group","type":"nominal","scale":{"domain":["Control","RT","TMZ","anti-PD-1"],"range":["#ffffff","#ff6a00","#4ba3f5","#14c414"]},"legend":null},"stroke":{"field":"group","type":"nominal","scale":{"domain":["Control","RT","TMZ","anti-PD-1"],"range":["#000000","#ff6a00","#4ba3f5","#14c414"]},"legend":null}}},
      {"data":{"name":"summary"},"transform":[{"filter":"datum.panel==='F'"}],"mark":{"type":"tick","orient":"horizontal","size":52,"thickness":3,"color":"#000000"},"encoding":{"y":{"field":"mean","type":"quantitative"}}}
     ]}]}
   ]}
  ]}
 ]}
]
}
